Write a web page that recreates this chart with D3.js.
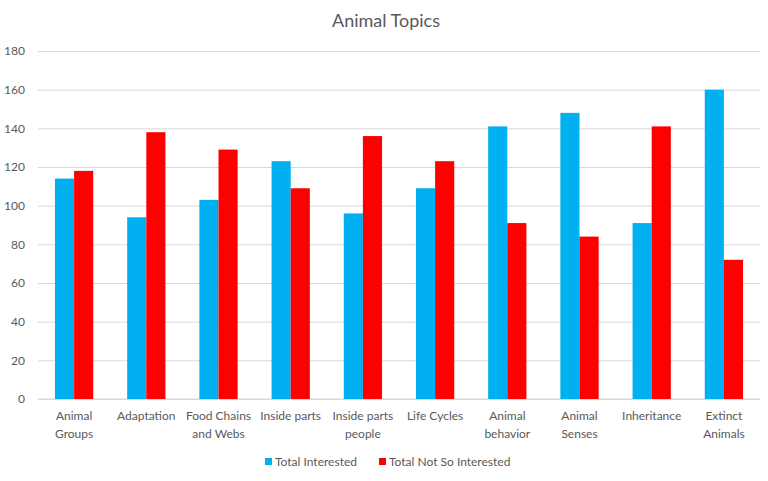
<!DOCTYPE html>
<html><head><meta charset="utf-8">
<script src="https://cdn.jsdelivr.net/npm/d3@7/dist/d3.min.js"></script>
<style>body{margin:0;background:#fff;}svg{display:block;}</style>
</head><body>
<script>
const categories = [["Animal","Groups"],["Adaptation"],["Food Chains","and Webs"],["Inside parts"],["Inside parts","people"],["Life Cycles"],["Animal","behavior"],["Animal","Senses"],["Inheritance"],["Extinct","Animals"]];
const seriesNames = ["Total Interested","Total Not So Interested"];
const interested = [114,94,103,123,96,109,141,148,91,160];
const notInterested = [118,138,129,109,136,123,91,84,141,72];
const yTicks = [0,20,40,60,80,100,120,140,160,180];
const colors = ["#00b0f0","#ff0000"];

const W=768,H=481;
const svg=d3.select("body").append("svg").attr("width",W).attr("height",H);
const font="Lato, 'Open Sans', sans-serif";
const txt="#595959";
const m={l:38,r:8,t:51,b:82};
const x=d3.scaleBand().domain(d3.range(categories.length)).range([m.l,W-m.r]).paddingInner(0.47).paddingOuter(0.235);
const y=d3.scaleLinear().domain([0,180]).range([H-m.b,m.t]);

svg.append("text").attr("x",386).attr("y",27).attr("text-anchor","middle")
  .attr("font-family",font).attr("font-size",18).attr("fill",txt).text("Animal Topics");

const ya=svg.append("g").attr("transform",`translate(${m.l},0)`)
  .call(d3.axisLeft(y).tickValues(yTicks).tickSize(-(W-m.l-m.r)).tickPadding(13));
ya.select(".domain").remove();
ya.selectAll(".tick line").attr("stroke","#d9d9d9");
ya.selectAll(".tick text").attr("font-family",font).attr("font-size",12).attr("fill",txt);

svg.append("line").attr("x1",m.l).attr("x2",W-m.r).attr("y1",y(0)).attr("y2",y(0)).attr("stroke","#d9d9d9");

const x1=d3.scaleBand().domain([0,1]).range([0,x.bandwidth()]);
const data=categories.map((c,i)=>[interested[i],notInterested[i]]);
const g=svg.append("g");
data.forEach((vals,i)=>{
  vals.forEach((v,j)=>{
    g.append("rect").attr("x",x(i)+x1(j)).attr("width",x1.bandwidth())
     .attr("y",y(v)).attr("height",y(0)-y(v)).attr("fill",colors[j]);
  });
});

const xa=svg.append("g");
categories.forEach((lines,i)=>{
  const t=xa.append("text").attr("x",x(i)+x.bandwidth()/2).attr("y",y(0)+21)
   .attr("text-anchor","middle").attr("font-family",font).attr("font-size",12).attr("fill",txt);
  lines.forEach((l,k)=>t.append("tspan").attr("x",x(i)+x.bandwidth()/2).attr("dy",k?18:0).text(l));
});

const leg=[{x:265},{x:379}];
seriesNames.forEach((n,j)=>{
  svg.append("rect").attr("x",leg[j].x).attr("y",458).attr("width",7).attr("height",7).attr("fill",colors[j]);
  svg.append("text").attr("x",leg[j].x+10).attr("y",466).attr("font-family",font).attr("font-size",12).attr("fill",txt).text(n);
});
</script>
</body></html>
